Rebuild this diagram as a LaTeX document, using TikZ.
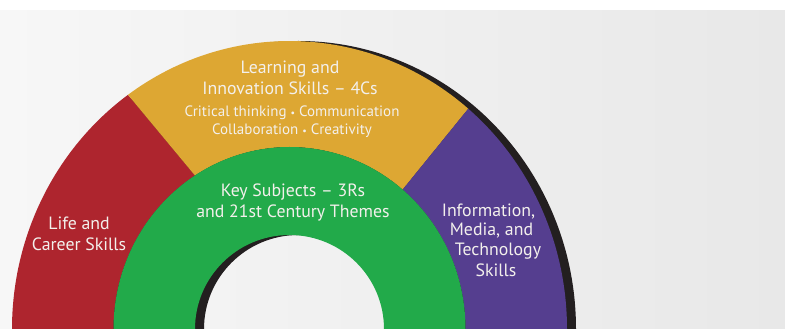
\documentclass[tikz,border=0pt]{standalone}
\usepackage{fontspec}
\setmainfont{PT Sans}
\definecolor{bgL}{RGB}{247,247,247}
\definecolor{bgR}{RGB}{232,232,232}
\definecolor{redc}{RGB}{174,37,46}
\definecolor{yelc}{RGB}{221,167,51}
\definecolor{grnc}{RGB}{34,170,74}
\definecolor{purc}{RGB}{85,62,143}
\definecolor{shdc}{RGB}{35,31,32}
\definecolor{txtc}{RGB}{243,240,236}
\newcommand{\bul}{{\fontsize{10}{10}\selectfont•}}
\tikzset{
  lbl/.style={text=txtc, align=center, inner sep=0pt},
  big/.style={lbl, font=\fontsize{17.8}{21.5}\selectfont},
  small/.style={lbl, font=\fontsize{15}{18}\selectfont},
}
\begin{document}
\begin{tikzpicture}[x=1pt,y=1pt]
\useasboundingbox (0,0) rectangle (785,329);
\shade[left color=bgL, right color=bgR] (0,0) rectangle (785,319);
\fill[white] (0,319) rectangle (785,329);
\coordinate (O) at (289.5,0);
\coordinate (S) at (298.5,0);
% shadow ring
\fill[shdc] ([shift={(S)}]0:277.5 and 288) arc[start angle=0,end angle=180,x radius=277.5,y radius=288]
  -- ([shift={(S)}]180:94.5 and 94) arc[start angle=180,end angle=0,x radius=94.5,y radius=94] -- cycle;
% red
\fill[redc] ([shift={(O)}]180:277.5 and 288) arc[start angle=180,end angle=125.6,x radius=277.5,y radius=288]
  -- ([shift={(O)}]122.5:176 and 182) arc[start angle=122.5,end angle=180,x radius=176,y radius=182] -- cycle;
% yellow
\fill[yelc] ([shift={(O)}]125.6:277.5 and 288) arc[start angle=125.6,end angle=49.9,x radius=277.5,y radius=288]
  -- ([shift={(O)}]50:176 and 182) arc[start angle=50,end angle=122.5,x radius=176,y radius=182] -- cycle;
% purple
\fill[purc] ([shift={(O)}]49.9:277.5 and 288) arc[start angle=49.9,end angle=0,x radius=277.5,y radius=288]
  -- ([shift={(O)}]0:176 and 182) arc[start angle=0,end angle=50,x radius=176,y radius=182] -- cycle;
% green
\fill[grnc] ([shift={(O)}]0:176 and 182) arc[start angle=0,end angle=180,x radius=176,y radius=182]
  -- ([shift={(O)}]180:94.5 and 94) arc[start angle=180,end angle=0,x radius=94.5,y radius=94] -- cycle;
% labels
\node[big] (learn) at (290,251) {Learning and\\Innovation Skills – 4Cs};
\node[small] (fourc) at (292,207) {Critical thinking \bul{} Communication\\Collaboration \bul{} Creativity};
\node[big] (key) at (293,126.5) {Key Subjects – 3Rs\\and 21st Century Themes};
\node[big] (life) at (79,95) {Life and\\Career Skills};
\node[big] (inf1) at (488.5,117) {Information,};
\node[big] (inf2) at (491.5,98) {Media, and};
\node[big] (inf3) at (498,78) {Technology};
\node[big] (inf4) at (496,59) {Skills};
\end{tikzpicture}
\end{document}
